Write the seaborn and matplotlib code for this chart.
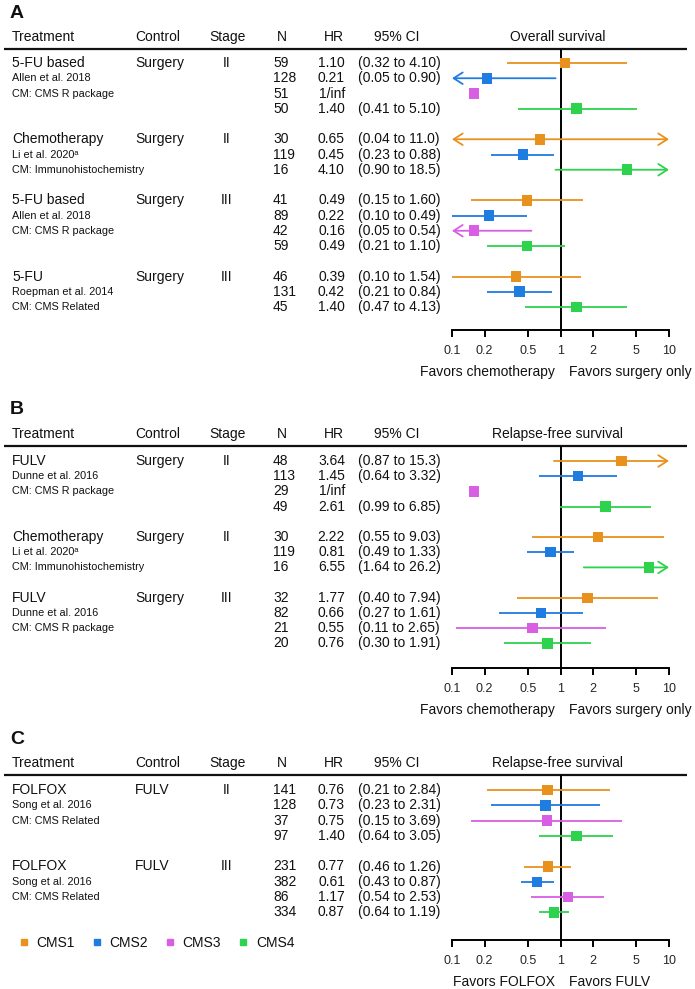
import numpy as np
import pandas as pd
import matplotlib
matplotlib.use("Agg")
import matplotlib.pyplot as plt
import seaborn as sns
from matplotlib.lines import Line2D
from matplotlib.ticker import NullLocator

# ---------------- data ----------------
cms_order = ["CMS1", "CMS2", "CMS3", "CMS4"]
cms_palette = ["#E8911C", "#1F7CE0", "#D85FE3", "#2DD24D"]

# A: overall survival
a_treatment = ["5-FU based", "Chemotherapy", "5-FU based", "5-FU"]
a_control = ["Surgery", "Surgery", "Surgery", "Surgery"]
a_stage = ["II", "II", "III", "III"]
a_study = ["Allen et al. 2018", "Li et al. 2020ᵃ", "Allen et al. 2018", "Roepman et al. 2014"]
a_method = ["CM: CMS R package", "CM: Immunohistochemistry", "CM: CMS R package", "CM: CMS Related"]
a_cms = [["CMS1", "CMS2", "CMS3", "CMS4"], ["CMS1", "CMS2", "CMS4"],
         ["CMS1", "CMS2", "CMS3", "CMS4"], ["CMS1", "CMS2", "CMS4"]]
a_n = [[59, 128, 51, 50], [30, 119, 16], [41, 89, 42, 59], [46, 131, 45]]
a_hr = [[1.10, 0.21, None, 1.40], [0.65, 0.45, 4.10], [0.49, 0.22, 0.16, 0.49], [0.39, 0.42, 1.40]]
a_lo = [[0.32, 0.05, None, 0.41], [0.04, 0.23, 0.90], [0.15, 0.10, 0.05, 0.21], [0.10, 0.21, 0.47]]
a_hi = [[4.10, 0.90, None, 5.10], [11.0, 0.88, 18.5], [1.60, 0.49, 0.54, 1.10], [1.54, 0.84, 4.13]]

# B: relapse-free survival, treatment vs surgery
b_treatment = ["FULV", "Chemotherapy", "FULV"]
b_control = ["Surgery", "Surgery", "Surgery"]
b_stage = ["II", "II", "III"]
b_study = ["Dunne et al. 2016", "Li et al. 2020ᵃ", "Dunne et al. 2016"]
b_method = ["CM: CMS R package", "CM: Immunohistochemistry", "CM: CMS R package"]
b_cms = [["CMS1", "CMS2", "CMS3", "CMS4"], ["CMS1", "CMS2", "CMS4"], ["CMS1", "CMS2", "CMS3", "CMS4"]]
b_n = [[48, 113, 29, 49], [30, 119, 16], [32, 82, 21, 20]]
b_hr = [[3.64, 1.45, None, 2.61], [2.22, 0.81, 6.55], [1.77, 0.66, 0.55, 0.76]]
b_lo = [[0.87, 0.64, None, 0.99], [0.55, 0.49, 1.64], [0.40, 0.27, 0.11, 0.30]]
b_hi = [[15.3, 3.32, None, 6.85], [9.03, 1.33, 26.2], [7.94, 1.61, 2.65, 1.91]]

# C: relapse-free survival, FOLFOX vs FULV
c_treatment = ["FOLFOX", "FOLFOX"]
c_control = ["FULV", "FULV"]
c_stage = ["II", "III"]
c_study = ["Song et al. 2016", "Song et al. 2016"]
c_method = ["CM: CMS Related", "CM: CMS Related"]
c_cms = [["CMS1", "CMS2", "CMS3", "CMS4"], ["CMS1", "CMS2", "CMS3", "CMS4"]]
c_n = [[141, 128, 37, 97], [231, 382, 86, 334]]
c_hr = [[0.76, 0.73, 0.75, 1.40], [0.77, 0.61, 1.17, 0.87]]
c_lo = [[0.21, 0.23, 0.15, 0.64], [0.46, 0.43, 0.54, 0.64]]
c_hi = [[2.84, 2.31, 3.69, 3.05], [1.26, 0.87, 2.53, 1.19]]

x_ticks = [0.1, 0.2, 0.5, 1, 2, 5, 10]
x_ticklabels = ["0.1", "0.2", "0.5", "1", "2", "5", "10"]
INF_POS = 0.16  # where the "1/inf" estimates are drawn

panels = [
    dict(letter="A", title="Overall survival",
         fav=("Favors chemotherapy", "Favors surgery only"),
         treatment=a_treatment, control=a_control, stage=a_stage, study=a_study,
         method=a_method, cms=a_cms, n=a_n, hr=a_hr, lo=a_lo, hi=a_hi,
         px=(49, 63, 15.25, 330)),
    dict(letter="B", title="Relapse-free survival",
         fav=("Favors chemotherapy", "Favors surgery only"),
         treatment=b_treatment, control=b_control, stage=b_stage, study=b_study,
         method=b_method, cms=b_cms, n=b_n, hr=b_hr, lo=b_lo, hi=b_hi,
         px=(446, 461, 15.2, 668)),
    dict(letter="C", title="Relapse-free survival",
         fav=("Favors FOLFOX", "Favors FULV"),
         treatment=c_treatment, control=c_control, stage=c_stage, study=c_study,
         method=c_method, cms=c_cms, n=c_n, hr=c_hr, lo=c_lo, hi=c_hi,
         px=(775, 790, 15.3, 940)),
]

# ---------------- style ----------------
sns.set_style("white")
plt.rcParams["font.family"] = ["Liberation Sans", "DejaVu Sans"]
plt.rcParams["text.color"] = "#111111"

W, H = 695, 989
FOREST_L, FOREST_R = 452, 669
colors = dict(zip(cms_order, cms_palette))


def fmt_ci(v):
    return f"{v:.1f}" if v >= 10 else f"{v:.2f}"


def to_frame(p):
    recs = []
    y = 0
    for g in range(len(p["treatment"])):
        for k, c in enumerate(p["cms"][g]):
            h, lo, hi = p["hr"][g][k], p["lo"][g][k], p["hi"][g][k]
            recs.append({"group": g, "row": y + k, "first": k == 0, "cms": c,
                         "n": p["n"][g][k],
                         "hr": np.nan if h is None else h,
                         "lo": np.nan if lo is None else lo,
                         "hi": np.nan if hi is None else hi})
        y += len(p["cms"][g]) + 1
    df = pd.DataFrame(recs)
    df["hr_pos"] = df["hr"].fillna(INF_POS)
    return df


def draw_panel(fig, p):
    top_px, row0_px, unit_px, axis_px = p["px"]
    r = lambda px: (px - row0_px) / unit_px
    df = to_frame(p)

    bottom = 1 - axis_px / H
    height = (axis_px - top_px) / H
    ylim = (r(axis_px), r(top_px))

    tab = fig.add_axes([0, bottom, 1, height])
    tab.set_xlim(0, W)
    tab.set_ylim(*ylim)
    tab.axis("off")

    ax = fig.add_axes([FOREST_L / W, bottom, (FOREST_R - FOREST_L) / W, height])
    ax.set_xscale("log")

    # header
    hy = r(top_px - 12)
    tab.text(10, r(top_px - 36), p["letter"], fontsize=14, fontweight="bold", va="center")
    tab.text(12, hy, "Treatment", fontsize=10, va="center")
    tab.text(135, hy, "Control", fontsize=10, va="center")
    tab.text(228, hy, "Stage", fontsize=10, va="center", ha="center")
    tab.text(282, hy, "N", fontsize=10, va="center", ha="center")
    tab.text(344, hy, "HR", fontsize=10, va="center", ha="right")
    tab.text(397, hy, "95% CI", fontsize=10, va="center", ha="center")
    tab.text(558, hy, p["title"], fontsize=10, va="center", ha="center")
    tab.plot([4, 687], [ylim[1], ylim[1]], color="#111111", lw=1.6,
             clip_on=False, solid_capstyle="butt")

    # group descriptors
    for _, first in df[df["first"]].iterrows():
        y = first["row"]
        i = int(first["group"])
        tab.text(12, y, p["treatment"][i], fontsize=10, va="center")
        tab.text(135, y, p["control"][i], fontsize=10, va="center")
        tab.text(227, y, p["stage"][i], fontsize=10, va="center", ha="center")
        tab.text(12, y + 1, p["study"][i], fontsize=7.8, va="center")
        tab.text(12, y + 2, p["method"][i], fontsize=7.8, va="center")

    # per-subtype rows
    for _, row in df.iterrows():
        y = row["row"]
        tab.text(273, y, str(row["n"]), fontsize=10, va="center")
        hr_txt = "1/inf" if np.isnan(row["hr"]) else f"{row['hr']:.2f}"
        tab.text(345, y, hr_txt, fontsize=10, va="center", ha="right")
        if not np.isnan(row["lo"]):
            tab.text(358, y, f"({fmt_ci(row['lo'])} to {fmt_ci(row['hi'])})",
                     fontsize=10, va="center")
            col = colors[row["cms"]]
            lo_c, hi_c = max(row["lo"], 0.1), min(row["hi"], 10)
            left_arr, right_arr = row["lo"] < 0.1, row["hi"] > 10
            if left_arr or right_arr:
                style = "<->" if (left_arr and right_arr) else "->"
                start, end = (hi_c, lo_c) if (left_arr and not right_arr) else (lo_c, hi_c)
                ax.annotate("", xy=(end, y), xytext=(start, y),
                            arrowprops=dict(arrowstyle=style + ",head_length=0.5,head_width=0.32",
                                            color=col, lw=1.3, shrinkA=0, shrinkB=0,
                                            mutation_scale=13),
                            zorder=2)
            else:
                ax.hlines(y, lo_c, hi_c, color=col, lw=1.3, zorder=2)

    sns.scatterplot(data=df, x="hr_pos", y="row", hue="cms", hue_order=cms_order,
                    palette=cms_palette, marker="s", s=58, linewidth=0,
                    legend=False, ax=ax, zorder=3)
    ax.axvline(1, color="black", lw=1.4, zorder=1)

    ax.set_xlim(0.1, 10)
    ax.set_ylim(*ylim)
    ax.set_xlabel("")
    ax.set_ylabel("")
    ax.set_yticks([])
    ax.set_xticks(x_ticks)
    ax.set_xticklabels(x_ticklabels)
    ax.xaxis.set_minor_locator(NullLocator())
    ax.tick_params(axis="x", bottom=True, direction="out", length=5, width=1.4,
                   pad=6, labelsize=9, color="black")
    for s in ["left", "top", "right"]:
        ax.spines[s].set_visible(False)
    ax.spines["bottom"].set_color("black")
    ax.spines["bottom"].set_linewidth(1.4)
    ax.patch.set_alpha(0)

    fy = r(axis_px + 42)
    tab.text(555, fy, p["fav"][0], fontsize=10, va="center", ha="right")
    tab.text(569, fy, p["fav"][1], fontsize=10, va="center", ha="left")


fig = plt.figure(figsize=(W / 100, H / 100), dpi=100)
for p in panels:
    draw_panel(fig, p)

handles = [Line2D([], [], marker="s", ls="none", color=c, markersize=5) for c in cms_palette]
fig.legend(handles, cms_order, loc="center left", bbox_to_anchor=(0.004, 1 - 943 / H),
           ncol=4, frameon=False, fontsize=10, handletextpad=0.3, columnspacing=1.0,
           handlelength=1.2)

fig.savefig("out.png", dpi=100)
